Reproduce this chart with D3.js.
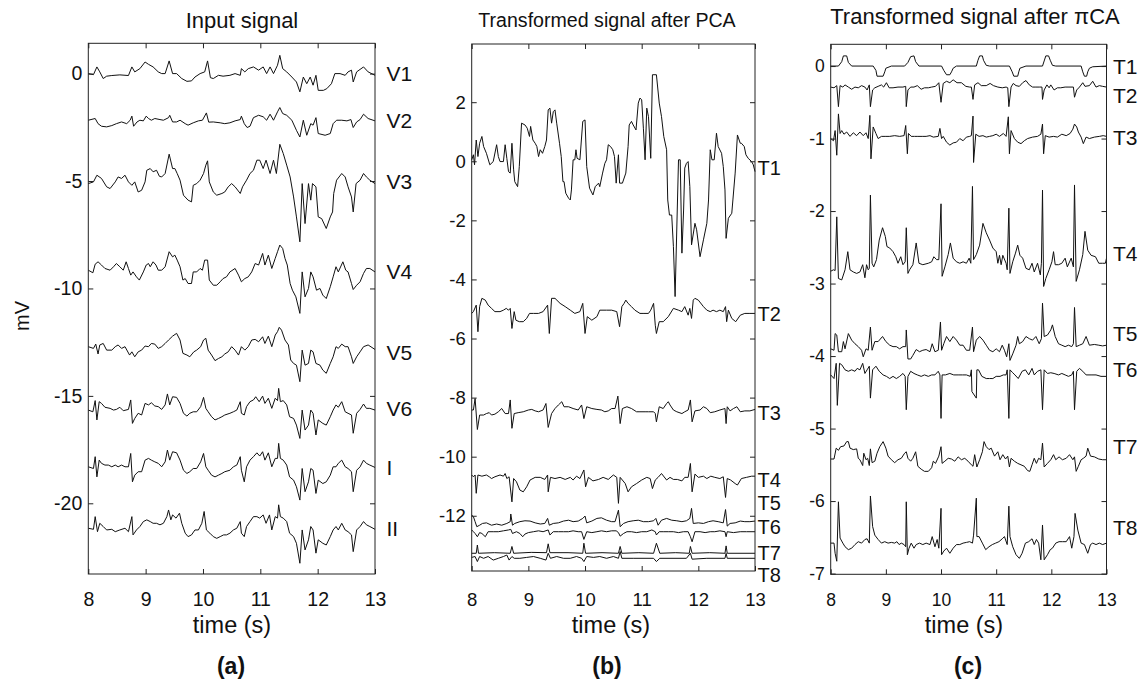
<!DOCTYPE html>
<html>
<head>
<meta charset="utf-8">
<script src="https://cdn.jsdelivr.net/npm/d3@7"></script>
<style>
  body { margin: 0; background: #fff; }
  text { fill: #111; }
</style>
</head>
<body>
<div id="chart"></div>
<script>
// ---------- data (time in s, value relative to each trace's offset) ----------
const timeTicks = [8, 9, 10, 11, 12, 13];

// (a) input signal
const inputNames = ["V1", "V2", "V3", "V4", "V5", "V6", "I", "II"];
const inputOffsets = [0, -2.17, -5.04, -9.07, -12.79, -15.58, -18.3, -21.16];
const inputLabelY = [0, -2.17, -5.04, -9.2, -12.96, -15.58, -18.35, -21.16];
const inputTicks = [0, -5, -10, -15, -20];
const inputDomain = [-23.29, 1.41];

const inV1 = [[8.0,0],[8.09,-0.05],[8.15,0.31],[8.20,0.08],[8.26,-0.23],[8.32,-0.12],[8.41,-0.09],[8.55,-0.06],[8.70,-0.09],[8.76,0.31],[8.81,0.08],[8.90,0.23],[8.99,0.54],[9.05,0.43],[9.13,0.31],[9.22,0.08],[9.28,0],[9.34,0],[9.41,0.59],[9.47,0],[9.54,0],[9.63,-0.23],[9.72,-0.36],[9.80,-0.34],[9.86,-0.16],[9.95,0],[10.03,0.08],[10.08,0.59],[10.13,-0.19],[10.18,-0.23],[10.27,-0.08],[10.35,-0.12],[10.47,-0.08],[10.56,0],[10.65,-0.08],[10.67,0.23],[10.73,0.08],[10.79,0.23],[10.88,0.31],[10.97,0.16],[11.05,0.31],[11.11,0],[11.17,0.31],[11.23,0],[11.30,0.39],[11.34,0.85],[11.39,0.23],[11.46,0.08],[11.55,-0.16],[11.63,-0.39],[11.69,-0.85],[11.75,-0.16],[11.81,-0.47],[11.87,-0.16],[11.92,-0.54],[11.97,-0.08],[12.01,-0.78],[12.10,-0.78],[12.16,-0.70],[12.24,-0.47],[12.30,0],[12.39,0],[12.48,-0.08],[12.53,0.08],[12.59,0.16],[12.62,-0.39],[12.68,0.08],[12.80,0.31],[12.88,0.08],[13.0,-0.08]];
const inV2 = [[8.0,0],[8.12,0.08],[8.17,-0.16],[8.23,-0.28],[8.32,-0.31],[8.41,-0.25],[8.49,-0.16],[8.58,-0.08],[8.67,-0.16],[8.73,0],[8.76,0.19],[8.79,-0.28],[8.85,-0.08],[8.90,0],[8.96,-0.03],[9.01,0.19],[9.05,0.08],[9.10,0],[9.16,0.08],[9.25,0.03],[9.31,0],[9.40,0.12],[9.42,0.23],[9.47,-0.08],[9.54,-0.08],[9.60,0],[9.69,-0.16],[9.74,-0.23],[9.83,-0.12],[9.92,-0.03],[9.99,0],[10.06,0.34],[10.10,-0.09],[10.18,-0.08],[10.30,-0.12],[10.38,-0.16],[10.47,-0.12],[10.56,-0.03],[10.65,0.03],[10.67,0.19],[10.72,-0.16],[10.77,-0.34],[10.82,-0.28],[10.88,0.12],[10.97,0.23],[11.05,0.16],[11.11,0],[11.17,0.28],[11.23,0],[11.30,0.39],[11.34,0.59],[11.39,0.31],[11.46,0.23],[11.55,0],[11.63,-0.47],[11.69,-0.78],[11.75,0],[11.81,-0.70],[11.88,-0.16],[11.92,-0.23],[11.97,0.12],[12.01,-0.62],[12.13,-0.70],[12.22,-0.62],[12.27,-0.16],[12.33,0],[12.42,0],[12.51,-0.03],[12.58,0.03],[12.62,-0.34],[12.68,-0.08],[12.74,0.03],[12.80,0.28],[12.88,0.08],[13.0,-0.03]];
const inV3 = [[8.0,-0.08],[8.09,0],[8.15,0.31],[8.23,0.16],[8.32,-0.23],[8.38,-0.31],[8.47,0],[8.52,0.23],[8.58,0.16],[8.64,0.31],[8.70,0],[8.76,-0.16],[8.81,0],[8.87,-0.47],[8.93,-0.39],[8.99,0],[9.02,0.54],[9.08,0.62],[9.13,0.47],[9.19,0.54],[9.24,0.26],[9.28,0.23],[9.34,0.39],[9.41,1.29],[9.47,0.62],[9.51,0.62],[9.55,0.39],[9.60,0.08],[9.66,-0.62],[9.74,-0.85],[9.80,-0.93],[9.83,-0.16],[9.89,-0.08],[9.95,0.08],[10.01,0.39],[10.05,0.78],[10.08,0.98],[10.11,0],[10.18,-0.47],[10.24,-0.62],[10.33,-0.54],[10.38,-0.47],[10.44,-0.23],[10.50,-0.08],[10.56,-0.23],[10.65,-0.54],[10.69,-0.23],[10.76,0.08],[10.82,0.39],[10.88,0.54],[10.94,1.01],[10.99,1.01],[11.05,0.62],[11.10,1.01],[11.17,0.39],[11.23,1.01],[11.28,0.39],[11.34,1.75],[11.40,1.32],[11.46,0.78],[11.52,0.23],[11.58,-0.70],[11.63,-1.63],[11.69,-2.79],[11.73,-0.08],[11.78,-1.94],[11.84,-0.08],[11.88,-0.85],[11.91,-0.08],[11.97,-0.23],[12.01,-1.63],[12.07,-1.71],[12.15,-2.17],[12.22,-1.63],[12.26,-1.40],[12.28,-0.54],[12.33,0.08],[12.42,0.39],[12.48,0.23],[12.53,-0.23],[12.59,-0.70],[12.62,-1.40],[12.67,-0.08],[12.74,0.08],[12.80,0.39],[12.85,0.23],[12.91,0.08],[13.0,-0.08]];
const inV4 = [[8.0,-0.08],[8.08,-0.20],[8.12,0.20],[8.17,0.31],[8.23,0.16],[8.29,0],[8.38,-0.08],[8.44,0.08],[8.49,0.23],[8.55,0.08],[8.61,-0.08],[8.66,0.31],[8.70,0],[8.74,-0.31],[8.78,-0.16],[8.84,-0.39],[8.89,-0.54],[8.96,-0.16],[9.01,0.16],[9.05,0.23],[9.08,0.08],[9.13,0.31],[9.18,0.16],[9.22,-0.08],[9.28,-0.08],[9.34,0.08],[9.41,0.78],[9.47,0.54],[9.51,0.62],[9.55,0.39],[9.60,0.08],[9.65,-0.54],[9.69,-0.47],[9.74,-0.70],[9.80,-0.70],[9.83,-0.16],[9.89,-0.16],[9.95,0],[9.99,-0.08],[10.03,0.39],[10.08,0.39],[10.11,-0.54],[10.18,-0.78],[10.24,-0.78],[10.30,-0.62],[10.35,-0.47],[10.41,-0.39],[10.47,-0.16],[10.56,0],[10.62,-0.31],[10.67,-0.62],[10.73,-0.47],[10.79,-0.39],[10.85,-0.16],[10.91,0.23],[10.97,0.16],[11.04,0.70],[11.08,0.16],[11.14,0.62],[11.20,0],[11.26,0.47],[11.30,0.78],[11.34,1.09],[11.39,0.93],[11.43,0.47],[11.47,0.16],[11.52,-0.70],[11.56,-1.01],[11.62,-1.32],[11.69,-2.09],[11.73,-0.16],[11.78,-1.32],[11.84,-0.93],[11.88,-0.16],[11.92,-0.39],[11.98,-1.01],[12.04,-0.93],[12.09,-1.24],[12.15,-1.40],[12.22,-0.85],[12.27,-0.39],[12.32,0.08],[12.36,-0.16],[12.44,0.31],[12.49,-0.08],[12.53,-0.16],[12.59,-0.70],[12.62,-0.98],[12.68,-0.78],[12.74,-0.62],[12.80,-0.23],[12.85,0],[12.91,0],[13.0,-0.16]];
const inV5 = [[8.0,0.08],[8.09,0],[8.13,0.20],[8.17,-0.26],[8.20,0.16],[8.26,0.23],[8.32,-0.08],[8.41,-0.08],[8.47,0.08],[8.52,0.16],[8.58,0],[8.64,0.08],[8.72,-0.31],[8.76,-0.16],[8.81,-0.39],[8.87,-0.16],[8.93,-0.08],[8.99,0.11],[9.05,0.08],[9.10,0.23],[9.16,0.20],[9.22,0],[9.28,0.08],[9.34,0.23],[9.40,0.39],[9.47,0.57],[9.54,0.70],[9.60,0.39],[9.65,-0.23],[9.72,-0.31],[9.77,-0.39],[9.84,-0.16],[9.89,-0.08],[9.96,0.08],[10.01,0.39],[10.05,0.47],[10.09,-0.08],[10.15,-0.31],[10.21,-0.57],[10.27,-0.47],[10.33,-0.39],[10.38,-0.26],[10.44,-0.16],[10.50,0.08],[10.56,-0.08],[10.62,-0.31],[10.67,0.08],[10.73,-0.08],[10.79,0.08],[10.85,0.39],[10.91,0.42],[10.97,0.31],[11.04,0.54],[11.08,0.23],[11.14,0.57],[11.20,0.08],[11.26,0.62],[11.30,0.78],[11.33,0.98],[11.37,0.85],[11.43,0.39],[11.49,0.16],[11.53,-0.54],[11.58,-0.70],[11.63,-0.78],[11.69,-1.55],[11.73,-0.08],[11.78,-0.78],[11.84,-0.70],[11.88,-0.08],[11.92,-0.16],[11.97,-0.70],[12.04,-0.78],[12.09,-1.01],[12.15,-1.16],[12.22,-0.70],[12.27,-0.39],[12.32,0.08],[12.36,0],[12.42,0.20],[12.48,0.08],[12.53,0.08],[12.59,-0.39],[12.62,-0.70],[12.68,-0.39],[12.74,-0.16],[12.80,0.08],[12.88,0.16],[13.0,-0.05]];
const inV6 = [[8.0,-0.08],[8.08,-0.16],[8.12,0.36],[8.15,-0.54],[8.19,0.31],[8.23,0.23],[8.29,0.05],[8.38,0],[8.44,-0.08],[8.49,-0.05],[8.55,0.05],[8.61,-0.11],[8.70,-0.05],[8.74,0.39],[8.77,-0.70],[8.81,-0.47],[8.87,-0.23],[8.93,-0.31],[8.99,0.23],[9.05,0.16],[9.10,0.26],[9.16,0.11],[9.22,0.08],[9.28,-0.05],[9.34,0.16],[9.38,0.67],[9.42,0.16],[9.47,0.54],[9.54,0.51],[9.60,0.23],[9.66,-0.23],[9.72,-0.36],[9.77,-0.23],[9.83,-0.16],[9.89,-0.16],[9.96,0.08],[10.01,0.51],[10.05,0],[10.09,-0.16],[10.15,-0.39],[10.21,-0.54],[10.27,-0.47],[10.33,-0.39],[10.38,-0.31],[10.47,-0.23],[10.53,-0.16],[10.59,-0.08],[10.65,0.31],[10.67,-0.23],[10.72,-0.31],[10.76,0.08],[10.82,0.31],[10.88,0.39],[10.92,0.54],[10.98,0.31],[11.04,0.57],[11.08,0.23],[11.14,0.47],[11.20,0],[11.26,0.47],[11.30,0.36],[11.32,0.93],[11.35,0.31],[11.40,0.36],[11.46,0.16],[11.51,-0.39],[11.58,-0.47],[11.63,-0.78],[11.69,-1.40],[11.73,-0.08],[11.78,-1.01],[11.84,-0.78],[11.88,-0.08],[11.92,-0.23],[11.97,-1.24],[12.01,-0.54],[12.09,-0.70],[12.15,-0.78],[12.22,-0.39],[12.27,-0.08],[12.32,0.16],[12.36,0.05],[12.42,0.31],[12.48,-0.16],[12.53,-0.23],[12.59,-0.31],[12.62,-1.16],[12.68,-0.23],[12.74,-0.05],[12.80,0.20],[12.85,0],[12.91,0],[13.0,-0.08]];
const inI = [[8.0,0],[8.09,-0.08],[8.12,0.47],[8.15,-0.47],[8.19,0.31],[8.23,0.16],[8.29,0.08],[8.35,0.08],[8.41,0],[8.47,0.08],[8.52,0],[8.58,0.08],[8.64,0],[8.70,0],[8.74,0.62],[8.77,-0.70],[8.81,-0.39],[8.87,-0.23],[8.93,-0.23],[8.99,0.31],[9.05,0.39],[9.10,0.31],[9.16,0.23],[9.22,0.16],[9.28,0],[9.34,0.23],[9.38,0.78],[9.42,0.31],[9.47,0.70],[9.54,0.65],[9.60,0.31],[9.66,-0.16],[9.72,-0.31],[9.77,-0.23],[9.83,-0.08],[9.89,-0.08],[9.96,0.23],[10.01,0.62],[10.05,0],[10.09,-0.16],[10.15,-0.39],[10.21,-0.47],[10.27,-0.39],[10.33,-0.31],[10.38,-0.23],[10.47,-0.16],[10.53,0],[10.59,0.08],[10.65,0.47],[10.67,-0.16],[10.72,-0.70],[10.76,0],[10.82,0.31],[10.88,0.47],[10.94,0.65],[10.99,0.50],[11.04,0.70],[11.08,0.31],[11.14,0.65],[11.20,0],[11.26,0.39],[11.30,0.39],[11.32,1.09],[11.35,0.39],[11.40,0.31],[11.46,0.08],[11.51,-0.47],[11.58,-0.62],[11.63,-0.93],[11.69,-1.55],[11.73,-0.08],[11.78,-1.16],[11.84,-0.70],[11.88,-0.08],[11.92,-0.16],[11.97,-1.24],[12.01,-0.62],[12.09,-0.78],[12.15,-0.70],[12.22,-0.39],[12.27,0],[12.32,0],[12.36,0.16],[12.42,0.31],[12.48,0],[12.53,-0.08],[12.59,-0.23],[12.62,-1.16],[12.68,-0.16],[12.74,0],[12.80,0.31],[12.85,0.16],[12.91,0.08],[13.0,-0.03]];
const inII = [[8.0,0],[8.09,-0.05],[8.12,0.54],[8.16,-0.16],[8.20,0.23],[8.26,0.08],[8.32,-0.08],[8.41,-0.05],[8.47,-0.16],[8.55,-0.08],[8.64,0],[8.70,-0.16],[8.76,0.54],[8.78,-0.31],[8.84,-0.08],[8.90,0.08],[8.96,0.31],[9.02,0.39],[9.08,0.31],[9.13,0.23],[9.19,0.23],[9.25,0.16],[9.31,0.23],[9.37,0.54],[9.40,0.85],[9.44,0.39],[9.47,0.62],[9.53,0.47],[9.59,0.70],[9.63,0.23],[9.69,-0.23],[9.74,-0.39],[9.80,-0.31],[9.86,-0.08],[9.92,-0.08],[9.98,0.23],[10.02,0.78],[10.06,-0.08],[10.12,-0.23],[10.18,-0.39],[10.24,-0.47],[10.30,-0.39],[10.36,-0.31],[10.41,-0.31],[10.47,-0.23],[10.53,-0.08],[10.59,0],[10.65,0.31],[10.67,-0.23],[10.72,-0.39],[10.76,0.08],[10.82,0.31],[10.88,0.54],[10.94,0.54],[10.99,0.47],[11.05,0.62],[11.10,0.23],[11.16,0.62],[11.20,-0.08],[11.26,0.54],[11.30,0.47],[11.32,1.09],[11.35,0.54],[11.40,0.47],[11.46,0.31],[11.51,-0.23],[11.58,-0.39],[11.63,-0.70],[11.69,-1.63],[11.73,-0.08],[11.78,-1.01],[11.84,-0.54],[11.88,0.08],[11.92,-0.08],[11.97,-1.16],[12.01,-0.54],[12.09,-0.70],[12.15,-0.78],[12.22,-0.39],[12.27,-0.08],[12.32,0.08],[12.36,-0.08],[12.42,0.23],[12.48,-0.08],[12.53,-0.16],[12.59,-0.31],[12.62,-1.09],[12.68,-0.08],[12.74,0.08],[12.80,0.31],[12.85,0.16],[12.91,0.08],[13.0,-0.05]];

// (b) after PCA
const pcaNames = ["T1", "T2", "T3", "T4", "T5", "T6", "T7", "T8"];
const pcaOffsets = [0, -5.15, -8.48, -10.68, -12.26, -12.54, -13.27, -13.44];
const pcaLabelY = [-0.22, -5.15, -8.52, -10.79, -11.57, -12.38, -13.26, -14.0];
const pcaTicks = [2, 0, -2, -4, -6, -8, -10, -12];
const pcaDomain = [-13.87, 3.97];

const pcaT1 = [[8.0,0.05],[8.03,0.22],[8.05,-0.12],[8.08,0.72],[8.11,0.16],[8.14,0.61],[8.18,0.84],[8.21,0.50],[8.26,0.27],[8.32,-0.12],[8.38,-0.01],[8.44,0.56],[8.47,0.16],[8.50,-0.01],[8.56,-0.01],[8.59,0.56],[8.62,0.10],[8.65,-0.35],[8.68,-0.40],[8.71,0.61],[8.74,-0.29],[8.76,-0.69],[8.81,-0.86],[8.84,-0.18],[8.88,1.29],[8.94,1.23],[8.98,1.12],[9.02,0.84],[9.04,1.18],[9.08,0.72],[9.12,0.61],[9.15,0.50],[9.18,0.16],[9.21,0.39],[9.25,0.27],[9.29,0.50],[9.32,0.72],[9.35,1.74],[9.38,1.80],[9.41,1.29],[9.44,1.68],[9.47,1.74],[9.50,1.29],[9.55,0.61],[9.58,0.16],[9.61,-0.69],[9.63,-0.69],[9.66,-1.08],[9.71,-1.25],[9.74,-1.31],[9.76,-0.97],[9.79,0.05],[9.82,0.05],[9.84,0.39],[9.86,0.10],[9.91,0.05],[9.96,1.35],[10.00,1.40],[10.03,-0.18],[10.08,-0.91],[10.14,-1.14],[10.18,-0.86],[10.24,-0.74],[10.26,-0.86],[10.31,-0.40],[10.35,-0.07],[10.38,0.05],[10.41,0.56],[10.45,0.50],[10.49,0.39],[10.52,0.16],[10.55,-0.74],[10.59,0.22],[10.61,-0.74],[10.66,-0.74],[10.72,-0.40],[10.76,0.50],[10.78,1.23],[10.82,1.35],[10.85,1.23],[10.90,1.06],[10.94,1.97],[10.97,2.14],[11.00,2.08],[11.03,1.12],[11.06,0.05],[11.09,1.80],[11.12,1.51],[11.16,0.10],[11.19,2.93],[11.26,2.93],[11.31,1.97],[11.35,1.51],[11.39,0.84],[11.44,0.39],[11.46,-1.31],[11.49,-1.82],[11.53,-1.82],[11.56,-2.89],[11.59,-4.58],[11.65,0.05],[11.68,0.05],[11.71,-3.11],[11.74,-1.65],[11.76,-0.23],[11.79,-0.07],[11.82,-0.01],[11.85,-0.86],[11.88,-2.83],[11.94,-2.10],[11.97,-2.32],[12.03,-3.23],[12.09,-2.66],[12.15,-2.10],[12.18,-1.31],[12.21,0.39],[12.24,0.05],[12.28,0.05],[12.32,0.95],[12.35,0.50],[12.41,0.27],[12.44,-0.18],[12.47,-0.97],[12.49,-2.61],[12.53,-1.93],[12.59,-1.76],[12.61,-1.31],[12.65,-0.40],[12.69,0.89],[12.74,0.61],[12.76,0.61],[12.81,0.50],[12.84,0.22],[12.88,0.10],[12.94,-0.01],[12.97,-0.12],[13.0,-0.35]];
const pcaT2 = [[8.0,0],[8.03,0.06],[8.08,0.28],[8.11,-0.62],[8.14,0.23],[8.18,0.51],[8.24,0.45],[8.29,0.28],[8.35,0.17],[8.41,0.06],[8.50,0.06],[8.56,0.11],[8.61,0.17],[8.65,0.11],[8.68,0.17],[8.71,-0.51],[8.75,0.06],[8.78,-0.23],[8.84,-0.28],[8.91,-0.28],[8.97,-0.17],[9.02,0],[9.09,0],[9.18,0],[9.26,0.06],[9.34,0.28],[9.37,-0.68],[9.41,0.51],[9.47,0.51],[9.56,0.34],[9.65,0.23],[9.74,0.11],[9.82,0],[9.91,0.06],[9.96,0.34],[10.00,-0.68],[10.04,-0.11],[10.12,-0.23],[10.21,-0.11],[10.26,0.11],[10.38,0.11],[10.47,0.11],[10.56,0.06],[10.61,-0.45],[10.65,0.23],[10.69,0.34],[10.72,0.45],[10.76,0.34],[10.82,0.23],[10.88,0.11],[10.97,0],[11.04,0],[11.12,0],[11.16,0.11],[11.21,0.34],[11.24,-0.40],[11.26,-0.68],[11.31,-0.28],[11.38,-0.28],[11.47,-0.11],[11.56,0.17],[11.65,0.11],[11.71,0.06],[11.76,0.23],[11.82,-0.06],[11.85,0.17],[11.88,-0.17],[11.91,0.45],[11.94,0.51],[12.00,0.45],[12.09,0.23],[12.15,0.11],[12.21,0.06],[12.26,0.11],[12.32,0.06],[12.38,0.11],[12.44,0.06],[12.48,0.23],[12.50,-0.28],[12.53,0.11],[12.59,-0.17],[12.66,-0.28],[12.74,-0.06],[12.82,0],[12.91,0],[13.0,0]];
const pcaT3 = [[8.0,0.06],[8.03,0.06],[8.06,0.45],[8.10,-0.60],[8.14,-0.11],[8.21,-0.11],[8.26,-0.06],[8.31,-0.03],[8.35,-0.11],[8.41,-0.08],[8.47,0],[8.53,0.11],[8.59,-0.06],[8.65,-0.06],[8.68,0.40],[8.71,-0.56],[8.75,-0.06],[8.82,-0.03],[8.91,0],[9.00,0.06],[9.06,0.08],[9.12,0.03],[9.18,0],[9.26,0.06],[9.31,0.28],[9.35,-0.53],[9.41,-0.06],[9.47,0.11],[9.53,0.23],[9.59,0.34],[9.63,0.17],[9.71,0.17],[9.79,0.11],[9.88,0.06],[9.94,0.23],[9.98,-0.23],[10.03,0.17],[10.12,0.11],[10.21,0.08],[10.29,0.06],[10.35,0],[10.41,0.03],[10.47,0.11],[10.53,0.11],[10.58,0.53],[10.62,-0.40],[10.66,0.11],[10.74,0.17],[10.82,0.11],[10.91,0],[10.97,0],[11.06,0],[11.12,0],[11.21,0],[11.24,-0.06],[11.26,-0.34],[11.31,0.17],[11.38,0.11],[11.44,0.28],[11.47,0.34],[11.50,0.23],[11.56,0.06],[11.62,0],[11.71,-0.06],[11.76,0],[11.82,0.06],[11.86,0.40],[11.89,-0.34],[11.94,0.03],[12.03,0.06],[12.09,0.17],[12.15,0.11],[12.21,-0.03],[12.29,0],[12.38,0.06],[12.47,0.11],[12.49,-0.40],[12.51,0.17],[12.56,0.03],[12.62,0.11],[12.68,0.17],[12.74,0],[12.82,0.03],[12.91,0.03],[13.0,0.08]];
const pcaT4 = [[8.0,0.06],[8.03,0],[8.06,0.06],[8.08,-0.56],[8.11,0.06],[8.18,0.02],[8.26,0.06],[8.31,0],[8.35,-0.06],[8.41,0],[8.50,0.06],[8.56,0.02],[8.59,0.11],[8.62,-0.06],[8.66,0],[8.71,-0.85],[8.74,-0.06],[8.79,-0.17],[8.85,-0.45],[8.91,-0.51],[8.97,-0.34],[9.03,-0.11],[9.12,-0.02],[9.21,-0.02],[9.29,-0.09],[9.34,0.06],[9.35,-0.51],[9.39,-0.02],[9.47,-0.06],[9.56,-0.02],[9.65,-0.09],[9.74,-0.02],[9.79,-0.11],[9.85,0.02],[9.91,-0.06],[9.98,0.23],[10.01,-0.34],[10.06,-0.02],[10.14,-0.14],[10.24,-0.09],[10.32,-0.02],[10.41,-0.09],[10.50,0.06],[10.56,-0.02],[10.59,-0.90],[10.62,-0.02],[10.71,-0.23],[10.76,-0.51],[10.82,-0.34],[10.91,-0.23],[11.00,-0.11],[11.09,-0.02],[11.15,-0.06],[11.19,-0.40],[11.24,-0.11],[11.29,-0.02],[11.35,0.11],[11.44,-0.11],[11.50,-0.02],[11.56,-0.09],[11.63,-0.09],[11.71,-0.14],[11.76,-0.02],[11.82,-0.02],[11.86,0.45],[11.89,-0.51],[11.94,0.09],[12.00,-0.02],[12.09,0.02],[12.15,-0.06],[12.22,0.02],[12.29,-0.02],[12.38,-0.06],[12.44,0],[12.48,-0.70],[12.51,-0.06],[12.57,-0.11],[12.65,-0.23],[12.69,-0.28],[12.76,-0.06],[12.85,-0.02],[12.94,0.02],[13.0,0.02]];
const pcaT5 = [[8.0,0.28],[8.03,0.23],[8.06,0.06],[8.09,-0.11],[8.14,-0.06],[8.19,0],[8.26,0.02],[8.35,-0.06],[8.44,-0.02],[8.53,-0.06],[8.62,0],[8.68,0.06],[8.69,0.32],[8.72,-0.06],[8.76,0],[8.85,0.06],[8.94,0.09],[9.03,0.08],[9.12,0.02],[9.21,-0.02],[9.29,0],[9.34,0.17],[9.37,-0.06],[9.44,0],[9.53,0.02],[9.62,0.08],[9.71,0.11],[9.79,0.06],[9.88,0.08],[9.96,0.17],[10.00,0.25],[10.03,0.02],[10.12,0.08],[10.21,0.17],[10.29,0.19],[10.38,0.11],[10.47,0.06],[10.53,0.06],[10.59,0.45],[10.62,-0.11],[10.68,0],[10.76,0.06],[10.85,0.09],[10.94,0.11],[11.03,0.06],[11.12,0.06],[11.21,0.09],[11.25,0.17],[11.29,-0.06],[11.35,0.11],[11.44,0.17],[11.53,0.11],[11.62,0.09],[11.71,0.06],[11.79,0.09],[11.85,0.17],[11.88,0.51],[11.91,0],[12.00,0.02],[12.09,0],[12.18,0.06],[12.26,0.09],[12.35,0.06],[12.44,0.02],[12.48,0.47],[12.51,-0.09],[12.56,0],[12.65,0.02],[12.74,0.08],[12.82,0.06],[12.91,0.06],[13.0,0.08]];
const pcaT6 = [[8.0,0.06],[8.03,0],[8.06,-0.06],[8.10,-0.17],[8.14,-0.03],[8.18,-0.06],[8.24,-0.17],[8.29,0],[8.38,0],[8.47,0],[8.56,0.03],[8.65,0.06],[8.69,0.08],[8.72,-0.06],[8.79,0],[8.85,-0.06],[8.90,-0.17],[8.94,-0.08],[9.00,-0.03],[9.09,0],[9.18,0.03],[9.26,0],[9.35,0.06],[9.38,-0.11],[9.44,0],[9.53,0],[9.62,0],[9.71,0],[9.79,0.03],[9.88,0],[9.94,0],[9.98,-0.26],[10.03,0],[10.12,-0.03],[10.21,0],[10.29,0.03],[10.38,0],[10.47,0.03],[10.55,0.03],[10.59,-0.03],[10.62,-0.15],[10.68,-0.06],[10.74,0],[10.82,0],[10.91,-0.03],[11.00,0],[11.09,0],[11.18,0.06],[11.24,0],[11.26,-0.11],[11.31,0],[11.38,0],[11.47,0],[11.56,0],[11.65,-0.03],[11.74,0],[11.82,0],[11.86,-0.17],[11.89,-0.34],[11.94,0],[12.03,0],[12.12,-0.03],[12.21,0],[12.29,0],[12.38,0.03],[12.47,0],[12.49,-0.17],[12.51,0],[12.62,-0.03],[12.74,0],[12.85,0],[13.0,0]];
const pcaT7 = [[8.0,0],[8.08,0],[8.10,0.28],[8.12,0],[8.40,0.02],[8.68,0],[8.71,0.23],[8.74,0],[9.05,0.03],[9.32,0.02],[9.35,0.32],[9.38,0.02],[9.70,0.02],[9.96,0],[9.98,0.34],[10.01,0],[10.30,0.02],[10.59,0],[10.62,0.23],[10.65,0],[10.95,0.02],[11.21,0],[11.26,0.34],[11.32,0],[11.60,0.02],[11.84,0],[11.86,0.23],[11.89,0],[12.20,0.02],[12.47,0],[12.49,0.25],[12.51,0],[13.0,0]];
const pcaT8 = [[8.0,0.03],[8.06,0.06],[8.10,-0.11],[8.14,0.06],[8.21,0],[8.29,0.06],[8.38,-0.06],[8.47,0],[8.56,0.06],[8.62,0.11],[8.66,-0.06],[8.71,0.06],[8.75,0],[8.85,0],[8.97,0.03],[9.09,0.06],[9.21,0],[9.31,-0.06],[9.35,0.17],[9.39,0],[9.50,0.06],[9.62,0],[9.74,0],[9.85,0.06],[9.94,0],[9.98,-0.11],[10.03,0.06],[10.15,0.03],[10.26,0.06],[10.38,0],[10.50,0.06],[10.59,0],[10.62,0.23],[10.65,0],[10.85,0],[11.21,0],[11.26,-0.11],[11.32,0],[11.79,0],[11.86,0.17],[11.89,-0.03],[12.15,0],[12.47,0],[12.49,0.17],[12.51,0],[13.0,0]];

// (c) after piCA
const picaNames = ["T1", "T2", "T3", "T4", "T5", "T6", "T7", "T8"];
const picaOffsets = [0, -0.29, -0.97, -2.73, -3.85, -4.26, -5.43, -6.58];
const picaLabelY = [0, -0.40, -0.98, -2.58, -3.69, -4.18, -5.25, -6.36];
const picaTicks = [0, -1, -2, -3, -4, -5, -6, -7];
const picaDomain = [-7.01, 0.30];

const piT1 = [[8.0,0],[8.14,0],[8.20,0.06],[8.23,0.14],[8.29,0.14],[8.32,0.05],[8.38,0],[8.77,0],[8.82,-0.06],[8.84,-0.14],[8.95,-0.14],[8.98,-0.08],[9.00,-0.03],[9.10,0],[9.34,0],[9.40,0.05],[9.45,0.13],[9.51,0.14],[9.54,0.06],[9.60,0],[10.01,0],[10.05,-0.06],[10.10,-0.12],[10.16,-0.12],[10.19,-0.08],[10.22,-0.03],[10.28,0],[10.64,0],[10.67,0.08],[10.70,0.14],[10.75,0.14],[10.77,0.08],[10.82,0.01],[10.88,0],[11.24,0],[11.29,-0.08],[11.32,-0.14],[11.39,-0.14],[11.41,-0.08],[11.43,-0.03],[11.54,0],[11.84,0],[11.87,0.07],[11.90,0.14],[11.95,0.14],[11.98,0.08],[12.02,0.01],[12.08,0],[12.54,0],[12.57,-0.08],[12.60,-0.14],[12.64,-0.14],[12.66,-0.08],[12.69,-0.03],[12.75,-0.01],[13.0,0]];
const piT2 = [[8.0,0],[8.06,-0.01],[8.11,0.02],[8.14,-0.27],[8.17,0.02],[8.22,0],[8.26,0.03],[8.32,0],[8.38,-0.03],[8.44,0],[8.50,-0.01],[8.56,0.02],[8.62,0],[8.66,-0.04],[8.70,0.03],[8.72,-0.27],[8.76,-0.04],[8.80,-0.01],[8.86,0.01],[8.92,0.03],[8.96,0],[9.01,0.06],[9.06,-0.01],[9.13,-0.01],[9.22,0],[9.31,0],[9.36,0.01],[9.37,-0.27],[9.40,-0.04],[9.45,0],[9.51,0],[9.57,0.02],[9.64,-0.03],[9.70,-0.01],[9.77,-0.01],[9.83,0],[9.90,0.01],[9.96,0.06],[10.00,-0.21],[10.04,0.05],[10.10,0.08],[10.16,0.06],[10.22,0.10],[10.29,0.06],[10.37,0.06],[10.45,0.01],[10.52,0],[10.55,0],[10.58,-0.17],[10.61,0.03],[10.67,0.06],[10.73,0.02],[10.82,0.02],[10.89,0.05],[10.95,0.02],[11.03,0],[11.11,-0.01],[11.18,0],[11.21,-0.01],[11.23,-0.27],[11.27,0],[11.31,0.05],[11.36,0.02],[11.42,0.01],[11.48,0.06],[11.54,0.09],[11.60,0.03],[11.66,0],[11.72,0],[11.78,0],[11.83,0],[11.84,-0.17],[11.87,-0.04],[11.92,0.03],[11.96,-0.01],[11.99,0.03],[12.05,-0.04],[12.11,-0.01],[12.17,-0.01],[12.25,0],[12.32,0],[12.40,0],[12.42,-0.14],[12.46,-0.04],[12.51,0],[12.57,0.06],[12.61,0.01],[12.69,0.02],[12.75,0.08],[12.81,0],[12.87,0.02],[12.93,0.01],[13.0,0]];
const piT3 = [[8.0,-0.03],[8.05,-0.06],[8.08,0.08],[8.11,-0.26],[8.14,0.31],[8.17,0.04],[8.20,0.08],[8.24,0.03],[8.29,0.06],[8.35,0],[8.41,0.05],[8.47,0.01],[8.53,0.06],[8.59,0.01],[8.64,0.05],[8.68,-0.03],[8.71,0.29],[8.73,-0.31],[8.77,0.13],[8.82,0.04],[8.86,-0.03],[8.92,0],[9.00,0],[9.07,0],[9.16,0.01],[9.25,0],[9.33,0.01],[9.36,0.15],[9.39,-0.24],[9.41,0.04],[9.46,0],[9.52,0],[9.58,0],[9.67,0],[9.73,0],[9.80,0.01],[9.86,-0.01],[9.95,0],[9.98,0.11],[10.01,-0.03],[10.04,0],[10.10,-0.08],[10.16,-0.12],[10.22,-0.09],[10.28,-0.08],[10.34,-0.03],[10.40,-0.06],[10.46,-0.01],[10.52,0],[10.55,0.01],[10.58,0.28],[10.59,-0.36],[10.63,0.03],[10.69,0],[10.76,0.01],[10.82,-0.01],[10.88,0],[10.94,0.01],[11.00,0.03],[11.06,0],[11.13,0.04],[11.18,0],[11.22,0.27],[11.24,-0.24],[11.27,0.08],[11.33,-0.03],[11.39,-0.08],[11.45,-0.10],[11.51,-0.06],[11.57,-0.03],[11.66,-0.01],[11.75,0],[11.81,0.03],[11.84,0.17],[11.86,-0.24],[11.89,0.01],[11.96,-0.01],[12.04,0],[12.11,-0.01],[12.19,0.03],[12.27,0.01],[12.34,0.04],[12.39,0.10],[12.42,0.17],[12.46,0.13],[12.49,0.06],[12.54,-0.01],[12.58,-0.10],[12.63,-0.01],[12.69,-0.03],[12.78,-0.01],[12.87,0],[12.94,0.01],[13.0,0]];
const piT4 = [[8.0,-0.10],[8.05,-0.08],[8.08,-0.09],[8.11,0.65],[8.14,-0.20],[8.17,-0.21],[8.20,-0.22],[8.26,-0.08],[8.31,0.17],[8.35,-0.08],[8.41,-0.11],[8.47,-0.13],[8.53,-0.11],[8.58,-0.01],[8.62,-0.19],[8.65,-0.01],[8.68,-0.08],[8.70,-0.06],[8.72,0.95],[8.75,0.01],[8.78,-0.04],[8.83,0.06],[8.88,0.33],[8.94,0.50],[8.99,0.38],[9.02,0.24],[9.07,0.22],[9.13,0.17],[9.18,0.10],[9.22,0.01],[9.27,0.10],[9.31,-0.01],[9.35,0.03],[9.37,0.50],[9.40,-0.13],[9.43,-0.08],[9.49,-0.01],[9.55,0.29],[9.60,0.01],[9.67,-0.01],[9.77,0.01],[9.83,0.03],[9.87,0.10],[9.92,0.06],[9.96,0.06],[10.00,0.83],[10.02,-0.17],[10.07,-0.04],[10.13,0.13],[10.17,0.29],[10.22,0.08],[10.28,0.03],[10.34,0.01],[10.40,0.03],[10.46,0.01],[10.51,0.08],[10.54,0.01],[10.57,1.07],[10.59,0.06],[10.64,0.13],[10.70,0.26],[10.76,0.56],[10.82,0.43],[10.88,0.33],[10.94,0.22],[11.00,0.17],[11.03,0.01],[11.06,0.12],[11.09,-0.01],[11.12,0.12],[11.18,0.01],[11.20,-0.08],[11.23,0.77],[11.25,-0.13],[11.30,0.03],[11.35,0.15],[11.39,0.26],[11.43,0.12],[11.48,0.08],[11.54,-0.06],[11.60,-0.08],[11.65,0.01],[11.69,-0.11],[11.75,0.01],[11.80,-0.15],[11.82,0.01],[11.84,1.02],[11.86,-0.31],[11.90,-0.20],[11.96,-0.08],[12.01,0.03],[12.04,0.17],[12.07,-0.01],[12.13,-0.01],[12.19,0.01],[12.25,0.08],[12.29,-0.04],[12.36,0.08],[12.40,-0.04],[12.42,1.09],[12.45,-0.24],[12.51,-0.08],[12.57,0.13],[12.61,0.45],[12.66,0.19],[12.72,0.12],[12.80,0.10],[12.86,0.01],[12.93,0.01],[12.98,0.01],[13.0,0.08]];
const piT5 = [[8.0,-0.05],[8.06,-0.07],[8.08,0.16],[8.11,0.14],[8.14,-0.09],[8.20,-0.09],[8.23,0.05],[8.26,-0.05],[8.32,0.16],[8.38,0.07],[8.44,0.02],[8.50,-0.02],[8.56,-0.07],[8.59,-0.16],[8.64,-0.05],[8.68,-0.07],[8.72,0.25],[8.75,-0.07],[8.80,0.05],[8.86,0.05],[8.94,0.12],[9.00,0.05],[9.07,0],[9.13,-0.02],[9.19,-0.02],[9.25,-0.05],[9.31,-0.02],[9.36,-0.02],[9.37,0.21],[9.40,-0.19],[9.45,-0.19],[9.49,-0.14],[9.55,-0.06],[9.61,-0.09],[9.67,-0.07],[9.73,-0.06],[9.80,-0.09],[9.84,0.02],[9.89,-0.09],[9.95,-0.07],[9.99,0.32],[10.01,-0.07],[10.05,0.02],[10.10,0.12],[10.16,0.05],[10.22,0.12],[10.28,0.07],[10.34,0],[10.40,0],[10.46,-0.07],[10.52,-0.07],[10.57,0.25],[10.59,-0.09],[10.64,0.07],[10.70,0.12],[10.76,0.07],[10.82,0],[10.88,-0.07],[10.94,-0.09],[11.00,-0.05],[11.06,-0.09],[11.11,0],[11.15,-0.07],[11.19,-0.16],[11.23,0.02],[11.25,-0.21],[11.30,-0.12],[11.36,0],[11.39,0.12],[11.42,0.02],[11.48,0.05],[11.54,0.12],[11.60,0.09],[11.66,0.07],[11.72,0.12],[11.78,0.02],[11.82,0.09],[11.84,0.58],[11.87,0.12],[11.93,0.14],[11.99,0.21],[12.02,0.28],[12.07,0.12],[12.13,0.02],[12.19,0],[12.25,-0.02],[12.31,0],[12.37,-0.02],[12.40,0.02],[12.42,0.52],[12.45,-0.02],[12.51,0],[12.57,0.02],[12.63,0.12],[12.69,0],[12.78,0.01],[12.86,0],[12.93,-0.01],[13.0,0]];
const piT6 = [[8.0,0],[8.06,-0.05],[8.10,0.16],[8.12,-0.42],[8.16,0.16],[8.20,0.14],[8.26,0.07],[8.32,0.05],[8.38,0.07],[8.44,0.05],[8.48,0.09],[8.53,0.07],[8.58,0.16],[8.62,0.02],[8.66,0.07],[8.70,0.12],[8.72,-0.32],[8.76,0.07],[8.82,0.12],[8.88,0.05],[8.95,0],[9.01,-0.02],[9.07,-0.05],[9.13,-0.02],[9.19,-0.05],[9.25,-0.02],[9.31,0.02],[9.35,-0.02],[9.37,-0.48],[9.40,-0.02],[9.45,0.05],[9.51,0.02],[9.57,0],[9.64,-0.02],[9.70,0],[9.77,-0.02],[9.83,0],[9.89,0],[9.95,0.05],[9.98,0],[10.00,-0.60],[10.02,0],[10.08,0],[10.16,0.02],[10.23,0],[10.31,0],[10.39,0],[10.46,0],[10.53,-0.02],[10.55,0.07],[10.56,-0.23],[10.64,-0.32],[10.65,0.07],[10.68,0.07],[10.74,-0.02],[10.82,-0.05],[10.88,-0.05],[10.94,-0.05],[11.00,-0.02],[11.07,-0.02],[11.13,0],[11.18,0],[11.20,0.07],[11.23,-0.60],[11.25,0.07],[11.30,0.03],[11.34,0],[11.40,-0.05],[11.47,0.05],[11.53,0.07],[11.59,0],[11.65,0.09],[11.69,0],[11.75,0.05],[11.81,0.07],[11.84,-0.48],[11.87,0.07],[11.93,0.02],[11.99,0.03],[12.05,0.02],[12.13,0],[12.19,0.02],[12.25,0],[12.31,-0.02],[12.37,0],[12.40,0.05],[12.42,-0.48],[12.46,0.05],[12.51,0.09],[12.57,0.05],[12.63,0],[12.72,0],[12.81,0],[12.90,-0.02],[13.0,-0.02]];
const piT7 = [[8.0,0.01],[8.06,0.01],[8.10,0.16],[8.14,0.13],[8.18,0.18],[8.24,0.19],[8.29,0.25],[8.32,0.25],[8.35,0.16],[8.41,0.14],[8.47,0.15],[8.50,0.02],[8.53,0],[8.58,-0.08],[8.60,0.09],[8.64,0],[8.67,0.02],[8.70,-0.08],[8.72,0.15],[8.75,-0.04],[8.80,-0.02],[8.84,0.09],[8.89,0.18],[8.95,0.25],[9.00,0.16],[9.04,0.05],[9.10,0],[9.16,-0.04],[9.22,0],[9.28,0.02],[9.34,0.09],[9.37,0.11],[9.40,0.02],[9.45,-0.02],[9.49,0.02],[9.54,0.11],[9.58,-0.09],[9.64,-0.13],[9.70,-0.16],[9.77,-0.16],[9.83,-0.11],[9.86,-0.02],[9.90,-0.05],[9.96,0.05],[10.00,0.18],[10.02,-0.05],[10.07,-0.02],[10.13,0.02],[10.19,0.01],[10.25,-0.02],[10.31,0.04],[10.37,0],[10.43,0.02],[10.49,-0.02],[10.55,-0.07],[10.58,-0.09],[10.61,0.07],[10.65,-0.10],[10.70,0],[10.75,0.11],[10.78,0.25],[10.82,0.18],[10.87,0.14],[10.91,0.16],[10.97,0.05],[11.03,0.11],[11.07,0],[11.12,0.07],[11.17,0.01],[11.21,0.05],[11.24,-0.10],[11.27,0.02],[11.33,-0.02],[11.39,-0.05],[11.45,-0.07],[11.51,-0.09],[11.57,-0.15],[11.61,-0.16],[11.65,-0.07],[11.69,0.02],[11.73,-0.05],[11.77,0.02],[11.81,0],[11.84,0.23],[11.87,-0.10],[11.93,-0.05],[11.99,0],[12.04,0.07],[12.08,0],[12.14,0.04],[12.20,0],[12.27,0.02],[12.33,0.07],[12.39,0],[12.42,0.04],[12.45,-0.16],[12.49,-0.09],[12.54,0],[12.58,0.02],[12.63,0.05],[12.66,0.16],[12.71,0.05],[12.78,0.04],[12.86,0.01],[12.93,0],[13.0,0]];
const piT8 = [[8.0,0],[8.06,0],[8.08,-0.14],[8.11,-0.25],[8.14,0.57],[8.17,0.07],[8.22,0],[8.26,-0.05],[8.32,-0.09],[8.38,-0.07],[8.44,-0.02],[8.50,0.02],[8.56,0],[8.62,0.05],[8.66,0.06],[8.70,0],[8.72,0.65],[8.76,0.23],[8.80,0.11],[8.86,0.05],[8.92,0],[8.98,0.02],[9.04,0],[9.10,0.01],[9.16,0],[9.20,0.02],[9.24,-0.02],[9.28,0],[9.33,-0.02],[9.36,-0.05],[9.37,0.57],[9.39,-0.16],[9.42,-0.07],[9.46,0],[9.51,-0.07],[9.55,-0.02],[9.61,0],[9.67,-0.02],[9.73,0],[9.80,-0.02],[9.84,0.09],[9.89,-0.05],[9.93,0.05],[9.96,-0.07],[10.00,0.48],[10.01,-0.16],[10.05,-0.11],[10.10,-0.07],[10.16,-0.14],[10.22,-0.07],[10.28,-0.02],[10.34,-0.02],[10.40,0],[10.46,0.01],[10.52,0.02],[10.57,0],[10.59,0.11],[10.64,0.62],[10.65,0.09],[10.69,0.09],[10.75,0],[10.81,-0.09],[10.87,-0.05],[10.93,-0.02],[10.99,0],[11.05,0.02],[11.11,0.06],[11.15,0.09],[11.20,-0.02],[11.23,0.51],[11.25,0.09],[11.30,-0.05],[11.36,-0.16],[11.42,-0.21],[11.47,-0.14],[11.53,0],[11.59,0.02],[11.65,0.06],[11.69,-0.02],[11.73,0.05],[11.77,0],[11.81,-0.23],[11.84,0.25],[11.87,-0.23],[11.93,-0.16],[11.98,-0.09],[12.02,-0.07],[12.08,0],[12.14,0.02],[12.20,0.02],[12.27,0.02],[12.33,0.09],[12.37,-0.07],[12.41,0.09],[12.43,0.41],[12.48,0.18],[12.54,0],[12.60,-0.02],[12.66,-0.14],[12.71,-0.02],[12.75,0],[12.81,-0.02],[12.87,0],[12.93,-0.02],[13.0,0]];

const inputTraces = [inV1, inV2, inV3, inV4, inV5, inV6, inI, inII];
const pcaTraces = [pcaT1, pcaT2, pcaT3, pcaT4, pcaT5, pcaT6, pcaT7, pcaT8];
const picaTraces = [piT1, piT2, piT3, piT4, piT5, piT6, piT7, piT8];

// ---------- layout ----------
const width = 1142, height = 681;
const font = '"Liberation Sans", Arial, Helvetica, sans-serif';

const svg = d3.select("#chart")
  .append("svg")
    .attr("width", width)
    .attr("height", height)
    .style("font-family", font);

const panels = [
  {traces: inputTraces, names: inputNames, offsets: inputOffsets, labelY: inputLabelY,
   ticks: inputTicks, domain: inputDomain, title: "Input signal", letter: "(a)",
   left: 88.3, right: 375, top: 43.3, bottom: 574,
   titleX: 242, titleY: 27.7, titleSize: 22, tickFont: 19.5, labelFont: 21, labelGap: 11.5,
   xlabX: 232, letterX: 231},
  {traces: pcaTraces, names: pcaNames, offsets: pcaOffsets, labelY: pcaLabelY,
   ticks: pcaTicks, domain: pcaDomain, title: "Transformed signal after PCA", letter: "(b)",
   left: 471.7, right: 755, top: 44, bottom: 571,
   titleX: 607, titleY: 27, titleSize: 19.6, tickFont: 18.5, labelFont: 20, labelGap: 2.5,
   xlabX: 611, letterX: 607},
  {traces: picaTraces, names: picaNames, offsets: picaOffsets, labelY: picaLabelY,
   ticks: picaTicks, domain: picaDomain, title: "Transformed signal after \u03c0CA", letter: "(c)",
   left: 830.7, right: 1106.5, top: 44.3, bottom: 574.3,
   titleX: 975, titleY: 24, titleSize: 22, tickFont: 17.5, labelFont: 21, labelGap: 6.5,
   xlabX: 964, letterX: 968}
];

panels.forEach(p => {
  const x = d3.scaleLinear().domain([8, 13]).range([p.left, p.right]);
  const y = d3.scaleLinear().domain(p.domain).range([p.bottom, p.top]);
  const g = svg.append("g");

  // traces
  p.traces.forEach((tr, i) => {
    const line = d3.line()
      .x(d => x(d[0]))
      .y(d => y(d[1] + p.offsets[i]));
    g.append("path")
      .datum(tr)
      .attr("fill", "none")
      .attr("stroke", "#111")
      .attr("stroke-width", 1)
      .attr("stroke-linejoin", "round")
      .attr("d", line);
  });

  // box
  g.append("rect")
    .attr("x", p.left).attr("y", p.top)
    .attr("width", p.right - p.left).attr("height", p.bottom - p.top)
    .attr("fill", "none").attr("stroke", "#222").attr("stroke-width", 1);

  const styleAxis = (sel, size) => {
    sel.select(".domain").remove();
    sel.selectAll(".tick line").attr("stroke", "#222");
    sel.selectAll("text").attr("font-size", size).attr("font-family", font).attr("fill", "#111");
  };

  // y axis left (labels) and right (ticks only)
  g.append("g")
      .attr("transform", `translate(${p.left},0)`)
      .call(d3.axisLeft(y).tickValues(p.ticks).tickSizeInner(-5).tickSizeOuter(0).tickPadding(6).tickFormat(d => String(d)))
      .call(s => styleAxis(s, p.tickFont));
  g.append("g")
      .attr("transform", `translate(${p.right},0)`)
      .call(d3.axisRight(y).tickValues(p.ticks).tickSizeInner(-5).tickSizeOuter(0).tickFormat(""))
      .call(s => styleAxis(s, p.tickFont));

  // x axis bottom (labels) and top (ticks only)
  const pad = 606 - p.bottom - 0.71 * p.tickFont;
  g.append("g")
      .attr("transform", `translate(0,${p.bottom})`)
      .call(d3.axisBottom(x).tickValues(timeTicks).tickSizeInner(-5).tickSizeOuter(0).tickPadding(pad).tickFormat(d => String(d)))
      .call(s => styleAxis(s, p.tickFont));
  g.append("g")
      .attr("transform", `translate(0,${p.top})`)
      .call(d3.axisTop(x).tickValues(timeTicks).tickSizeInner(-5).tickSizeOuter(0).tickFormat(""))
      .call(s => styleAxis(s, p.tickFont));

  // trace names at the right
  g.append("g")
    .selectAll("text")
    .data(p.names)
    .join("text")
      .attr("x", p.right + p.labelGap)
      .attr("y", (d, i) => y(p.labelY[i]))
      .attr("dy", "0.36em")
      .style("font-size", p.labelFont + "px")
      .text(d => d);

  // title
  g.append("text")
    .attr("x", p.titleX).attr("y", p.titleY)
    .attr("text-anchor", "middle")
    .style("font-size", p.titleSize + "px")
    .text(p.title);

  // x label and panel letter
  g.append("text")
    .attr("x", p.xlabX).attr("y", 633)
    .attr("text-anchor", "middle")
    .style("font-size", "23.5px")
    .text("time (s)");
  g.append("text")
    .attr("x", p.letterX).attr("y", 674)
    .attr("text-anchor", "middle")
    .style("font-size", "23px")
    .style("font-weight", "bold")
    .text(p.letter);
});

// shared y label
svg.append("text")
  .attr("transform", "translate(22,316) rotate(-90)")
  .attr("text-anchor", "middle")
  .attr("dy", "0.35em")
  .style("font-size", "20px")
  .text("mV");
</script>
</body>
</html>
